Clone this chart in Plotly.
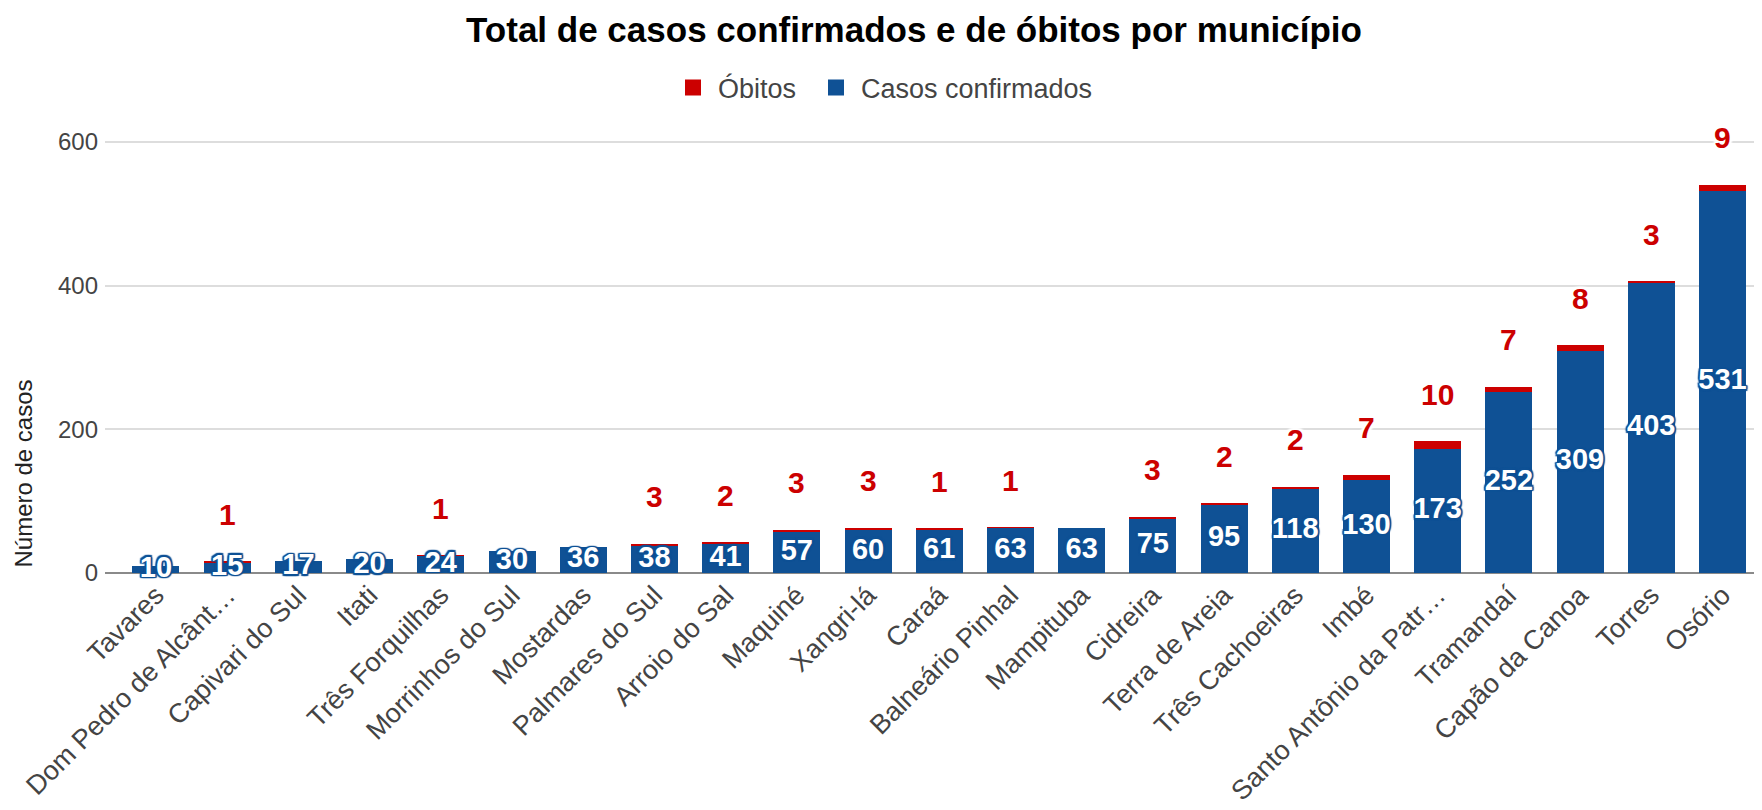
import plotly.graph_objects as go

municipios = [
    "Tavares", "Dom Pedro de Alcânt…", "Capivari do Sul", "Itati", "Três Forquilhas",
    "Morrinhos do Sul", "Mostardas", "Palmares do Sul", "Arroio do Sal", "Maquiné",
    "Xangri-lá", "Caraá", "Balneário Pinhal", "Mampituba", "Cidreira",
    "Terra de Areia", "Três Cachoeiras", "Imbé", "Santo Antônio da Patr…", "Tramandaí",
    "Capão da Canoa", "Torres", "Osório",
]
casos = [10, 15, 17, 20, 24, 30, 36, 38, 41, 57, 60, 61, 63, 63, 75, 95, 118, 130, 173, 252, 309, 403, 531]
obitos = [0, 1, 0, 0, 1, 0, 0, 3, 2, 3, 3, 1, 1, 0, 3, 2, 2, 7, 10, 7, 8, 3, 9]
y_ticks = [0, 200, 400, 600]

BLUE = "#0f5195"
RED = "#cc0000"
FONT = "Arial, 'Liberation Sans', sans-serif"

# the page body adds an 8px margin, so the figure is 8px smaller than the window
W, H = 1754, 802

fig = go.Figure()
fig.add_trace(go.Bar(x=municipios, y=casos, name="Casos confirmados", marker_color=BLUE,
                     marker_line_width=0, showlegend=False, legendgroup="c"))
fig.add_trace(go.Bar(x=municipios, y=obitos, name="Óbitos", marker_color=RED,
                     marker_line_width=0, showlegend=False, legendgroup="o"))

# labels inside blue bars
aura = ", ".join(f"{dx}px {dy}px 1px {BLUE}" for dx in (-1.5, 0, 1.5) for dy in (-1.5, 0, 1.5) if (dx, dy) != (0, 0))
fig.add_trace(go.Scatter(
    x=municipios, y=[c / 2 for c in casos], mode="text", text=[str(c) for c in casos],
    textposition="middle center",
    textfont=dict(family=FONT, size=29, color="white", weight="bold", shadow=aura),
    showlegend=False, hoverinfo="skip", cliponaxis=False,
))

# legend entries (square symbols), one legend each so they can be spaced like the original
fig.add_trace(go.Scatter(x=[None], y=[None], mode="markers", name="Óbitos",
                         marker=dict(symbol="square", size=16, color=RED),
                         legendgroup="o", legend="legend"))
fig.add_trace(go.Scatter(x=[None], y=[None], mode="markers", name="Casos confirmados",
                         marker=dict(symbol="square", size=16, color=BLUE),
                         legendgroup="c", legend="legend2"))

white_aura = ", ".join(f"{dx}px {dy}px 2px white" for dx in (-2, 0, 2) for dy in (-2, 0, 2) if (dx, dy) != (0, 0))
annotations = []
for m, c, o in zip(municipios, casos, obitos):
    if o > 0:
        annotations.append(dict(
            x=m, y=c + o, xref="x", yref="y", text=str(o), showarrow=False,
            yanchor="middle", yshift=47,
            font=dict(family=FONT, size=30, color=RED, weight="bold", shadow=white_aura),
        ))

# y axis title, placed low on the left as in the original
annotations.append(dict(
    text="Número de casos", textangle=-90, showarrow=False,
    xref="paper", yref="paper", x=-0.0489, y=0.225, xanchor="center", yanchor="middle",
    font=dict(family=FONT, size=24, color="#222222"),
))

legend_common = dict(orientation="h", xref="container", xanchor="left",
                     yref="container", y=1 - 80 / H, yanchor="middle",
                     itemwidth=40, bgcolor="rgba(0,0,0,0)",
                     font=dict(family=FONT, size=27, color="#444444"),
                     itemclick=False, itemdoubleclick=False)

fig.update_layout(
    width=W, height=H,
    barmode="stack", bargap=0.34,
    paper_bgcolor="white", plot_bgcolor="white",
    margin=dict(l=97, r=0, t=123, b=237),
    font=dict(family=FONT, color="#444444"),
    title=dict(text="<b>Total de casos confirmados e de óbitos por município</b>",
               x=906 / W, xanchor="center", xref="container",
               y=1 - 22 / H, yanchor="middle", yref="container",
               font=dict(family=FONT, size=35, color="#000000")),
    legend=dict(x=660 / W, **legend_common),
    legend2=dict(x=803 / W, **legend_common),
    annotations=annotations,
)
fig.update_xaxes(
    range=[-0.716, 22.555], tickangle=-45,
    tickfont=dict(family=FONT, size=27, color="#444444"),
    showgrid=False, showline=False, ticks="",
)
fig.update_yaxes(
    range=[0, 615], tickvals=y_ticks, ticktext=[str(v) for v in y_ticks],
    tickfont=dict(family=FONT, size=24, color="#444444"),
    gridcolor="#dddddd", gridwidth=1.5,
    zeroline=True, zerolinecolor="#8a8a8a", zerolinewidth=2,
    ticklabelstandoff=6,
)

fig.write_html("out.html")
